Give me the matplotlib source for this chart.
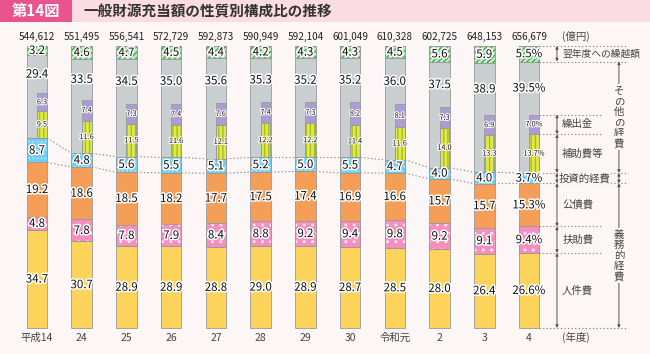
import numpy as np
import matplotlib
matplotlib.use("Agg")
import matplotlib.pyplot as plt
import matplotlib.patheffects as pe
from matplotlib.patches import Rectangle

plt.rcParams['font.family'] = ['Noto Sans CJK JP', 'DejaVu Sans']
plt.rcParams['hatch.linewidth'] = 1.0

years = ["平成14", "24", "25", "26", "27", "28", "29", "30", "令和元", "2", "3", "4"]
totals = ["544,612", "551,495", "556,541", "572,729", "592,873", "590,949",
          "592,104", "601,049", "610,328", "602,725", "648,153", "656,679"]
jinkenhi = [34.7, 30.7, 28.9, 28.9, 28.8, 29.0, 28.9, 28.7, 28.5, 28.0, 26.4, 26.6]
fujohi = [4.8, 7.8, 7.8, 7.9, 8.4, 8.8, 9.2, 9.4, 9.8, 9.2, 9.1, 9.4]
kosaihi = [19.2, 18.6, 18.5, 18.2, 17.7, 17.5, 17.4, 16.9, 16.6, 15.7, 15.7, 15.3]
toshi = [8.7, 4.8, 5.6, 5.5, 5.1, 5.2, 5.0, 5.5, 4.7, 4.0, 4.0, 3.7]
sonota = [29.4, 33.5, 34.5, 35.0, 35.6, 35.3, 35.2, 35.2, 36.0, 37.5, 38.9, 39.5]
kurikoshi = [3.2, 4.6, 4.7, 4.5, 4.4, 4.2, 4.3, 4.3, 4.5, 5.6, 5.9, 5.5]
hojohi = [9.5, 11.6, 11.5, 11.6, 12.1, 12.2, 12.2, 11.4, 11.6, 14.0, 13.3, 13.7]
kuridashi = [6.3, 7.4, 7.3, 7.4, 7.6, 7.4, 7.3, 8.2, 8.1, 7.3, 6.9, 7.0]

BG = '#fdf6f6'
fig = plt.figure(figsize=(6.5, 3.54), dpi=100, facecolor=BG)
ax = fig.add_axes([0, 0, 1, 1])
ax.set_facecolor(BG)
ax.set_xlim(-0.827, 13.705)
ax.set_ylim(-9.22, 116.31)
ax.axis('off')

x = np.arange(len(years))
W = 0.46
EC = '#9a9a9a'
stroke = [pe.withStroke(linewidth=2.2, foreground='white')]
TXT = '#111111'

segments = [
    (jinkenhi, '#fed35c', None, None),
    (fujohi, '#f48fbf', '..', '#fde3f0'),
    (kosaihi, '#f59e57', None, None),
    (toshi, '#6ccdf3', '....', '#a6e2f8'),
    (sonota, '#c9ced1', None, None),
    (kurikoshi, '#c6eabb', '//////', '#35b055'),
]

n = len(years)
bottom = np.zeros(n)
bounds = {}
for k, (vals, fc, hatch, hc) in enumerate(segments):
    vals = np.array(vals)
    ax.bar(x, vals, W, bottom=bottom, color=fc, edgecolor=EC, linewidth=0.6, zorder=2)
    if hatch:
        ax.bar(x, vals, W, bottom=bottom, color='none', edgecolor=hc, hatch=hatch,
               linewidth=0, zorder=3)
        ax.bar(x, vals, W, bottom=bottom, color='none', edgecolor=EC, linewidth=0.6, zorder=3)
    bounds[k] = (bottom.copy(), bottom + vals)
    bottom = bottom + vals

# narrow bars inside the "other" segment
nb0 = bounds[4][0]
hoj = np.array(hojohi)
kur = np.array(kuridashi)
NW = W / 2 - 0.01
ax.bar(x, hoj, NW, bottom=nb0, align='edge', color='#dfe84c', edgecolor=EC, linewidth=0.6, zorder=4)
ax.bar(x, hoj, NW, bottom=nb0, align='edge', color='none', edgecolor='#a9bd1c', hatch='||||', linewidth=0, zorder=5)
ax.bar(x, hoj, NW, bottom=nb0, align='edge', color='none', edgecolor=EC, linewidth=0.6, zorder=5)
ax.bar(x, kur, NW, bottom=nb0 + hoj, align='edge', color='#ab9dd3', edgecolor=EC, linewidth=0.6, zorder=4)

def fmt(v, i):
    return f"{v:.1f}%" if i == n - 1 else f"{v:.1f}"

small_stroke = [pe.withStroke(linewidth=1.5, foreground='white')]
for i in range(n):
    for k in [0, 1, 2, 3, 5]:
        b0, b1 = bounds[k][0][i], bounds[k][1][i]
        ax.text(x[i], (b0 + b1) / 2, fmt(segments[k][0][i], i), ha='center', va='center',
                fontsize=8.3, color=TXT, path_effects=stroke, zorder=6)
    gtop = bounds[4][1][i]
    ntop = nb0[i] + hoj[i] + kur[i]
    ax.text(x[i], (gtop + ntop) / 2, fmt(sonota[i], i), ha='center', va='center',
            fontsize=8.3, color=TXT, path_effects=stroke, zorder=6)
    cx = x[i] + NW / 2
    ax.text(cx, nb0[i] + hoj[i] / 2, fmt(hoj[i], i), ha='center', va='center',
            fontsize=5.3, color=TXT, path_effects=small_stroke, zorder=6)
    ax.text(cx, nb0[i] + hoj[i] + kur[i] / 2, fmt(kur[i], i), ha='center', va='center',
            fontsize=5.3, color=TXT, path_effects=small_stroke, zorder=6)
    ax.text(x[i], 103.3, totals[i], ha='center', va='center', fontsize=7.2, color='#222222')
    ax.text(x[i], -3.5, years[i], ha='center', va='center', fontsize=7.5, color='#444444')

# dotted connectors for investment segment
for i in range(n - 1):
    for arr in (bounds[3][0], bounds[3][1]):
        ax.plot([x[i] + W / 2, x[i + 1] - W / 2], [arr[i], arr[i + 1]], ls=(0, (1.2, 2)),
                color='#8a8a8a', lw=0.8, zorder=1)

ax.text(11.74, 103.3, "(億円)", ha='left', va='center', fontsize=7.5, color='#444444')
ax.text(11.74, -3.5, "(年度)", ha='left', va='center', fontsize=7.5, color='#444444')

# right-side annotation
L = n - 1
xs0 = x[L] + W / 2
short_end, long_end = 12.63, 13.21
levels = {
    'top': (bounds[5][1][L], long_end),
    'kuri': (bounds[5][0][L], long_end),
    'kd_top': (nb0[L] + hoj[L] + kur[L], short_end),
    'kd_bot': (nb0[L] + hoj[L], short_end),
    'inv_top': (bounds[3][1][L], long_end),
    'inv_bot': (bounds[3][0][L], long_end),
    'fu_top': (bounds[1][1][L], short_end),
    'jin_top': (bounds[0][1][L], short_end),
    'zero': (0.0, long_end),
}
for name, (yv, xe) in levels.items():
    ax.plot([xs0, xe], [yv, yv], ls=(0, (1.2, 2)), color='#8a8a8a', lw=0.8, zorder=1)

AC = '#555555'
def darrow(xp, y0, y1):
    ax.annotate('', xy=(xp, y1), xytext=(xp, y0),
                arrowprops=dict(arrowstyle='<|-|>', color=AC, lw=0.7,
                                mutation_scale=4, shrinkA=0, shrinkB=0))

ax_x = 11.625
lab_x = 11.74
spans = [
    (levels['kuri'][0], levels['top'][0], "翌年度への繰越額", 7.0),
    (levels['kd_bot'][0], levels['kd_top'][0], "繰出金", 7.5),
    (levels['inv_top'][0], levels['kd_bot'][0], "補助費等", 7.5),
    (levels['inv_bot'][0], levels['inv_top'][0], "投資的経費", 7.5),
    (levels['fu_top'][0], levels['inv_bot'][0], "公債費", 7.5),
    (levels['jin_top'][0], levels['fu_top'][0], "扶助費", 7.5),
    (0.0, levels['jin_top'][0], "人件費", 7.5),
]
for y0, y1, lab, fs in spans:
    darrow(ax_x, y0, y1)
    lx = lab_x - 0.08 if lab == "投資的経費" else lab_x
    ax.text(lx, (y0 + y1) / 2, lab, ha='left', va='center', fontsize=fs, color='#444444',
            bbox=dict(facecolor=BG, edgecolor='none', pad=0.3) if lab == "投資的経費" else None,
            zorder=7)

def vtext(xp, yc, s, step=3.7):
    m = len(s)
    for j, ch in enumerate(s):
        yy = yc + (m - 1) / 2 * step - j * step
        ax.text(xp, yy, ch, ha='center', va='center', fontsize=7.5, color='#444444',
                bbox=dict(facecolor=BG, edgecolor='none', pad=1.2), zorder=7)

vx = 13.01
darrow(vx, levels['inv_top'][0], levels['kuri'][0])
vtext(vx, (levels['inv_top'][0] + levels['kuri'][0]) / 2, "その他の経費")
darrow(vx, levels['inv_bot'][0], levels['inv_top'][0])
darrow(vx, 0.0, levels['inv_bot'][0])
vtext(vx, levels['inv_bot'][0] / 2, "義務的経費")

# title band
H = 354.0
fig.patches.append(Rectangle((0, 1 - 22 / H), 1, 22 / H, transform=fig.transFigure,
                             facecolor='#fbdce3', edgecolor='none', zorder=0))
fig.patches.append(Rectangle((0, 1 - 22 / H), 72 / 650, 22 / H, transform=fig.transFigure,
                             facecolor='#e9548d', edgecolor='none', zorder=0))
fig.text(36 / 650, 1 - 11 / H, "第14図", ha='center', va='center', fontsize=11,
         fontweight='bold', color='white')
fig.text(83 / 650, 1 - 11 / H, "一般財源充当額の性質別構成比の推移", ha='left', va='center',
         fontsize=10.5, fontweight='bold', color='#333333')

fig.savefig("out.png", dpi=100, facecolor=BG)
